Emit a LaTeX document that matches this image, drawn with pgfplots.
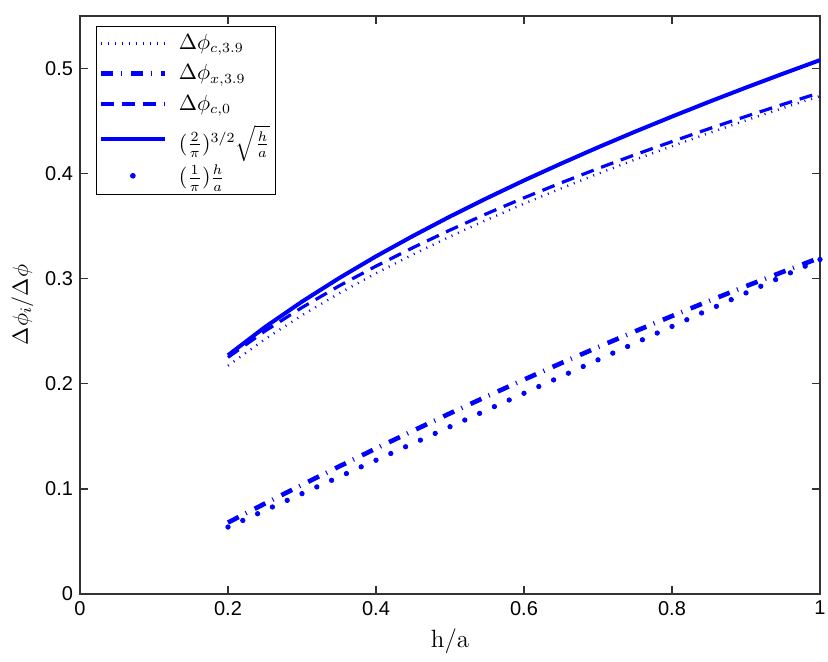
\documentclass[border=0pt]{standalone}
\usepackage{pgfplots}
\pgfplotsset{compat=1.18}
\usepackage{fontspec}
\newfontfamily\hel{Liberation Sans}
\definecolor{mblue}{rgb}{0,0,1}
\definecolor{axgray}{gray}{0.2}
\begin{document}
\begin{tikzpicture}
\begin{axis}[
  name=ax,
  scale only axis,
  width=370pt, height=289pt,
  xmin=0, xmax=1, ymin=0, ymax=0.55,
  xtick={0,0.2,0.4,0.6,0.8,1},
  ytick={0,0.1,0.2,0.3,0.4,0.5},
  xticklabels={0,0.2,0.4,0.6,0.8,1},
  yticklabels={0,0.1,0.2,0.3,0.4,0.5},
  tick align=inside,
  major tick length=4pt,
  axis line style={axgray, line width=0.6pt},
  every tick/.style={axgray, line width=0.6pt},
  ticklabel style={font=\hel\fontsize{10}{12}\selectfont, text=black},
  /pgf/number format/assume math mode=true,
  xlabel={\fontsize{12.5}{14}\selectfont h/a},
  ylabel={\fontsize{11}{13}\selectfont $\Delta\phi_i/\Delta\phi$},
  ylabel style={yshift=-1pt},
  legend style={at={(0.0216,0.983)}, anchor=north west, font=\fontsize{10.5}{12}\selectfont,
    draw=black, line width=0.6pt, row sep=2pt, column sep=3pt, inner xsep=1pt, inner ysep=2pt,
    cells={anchor=west}},
  legend cell align=left,
  legend image code/.code={\draw[#1] (0cm,0cm) -- (32pt,0cm); \path[draw=none] (0,0) -- (34pt,0);},
]
% Delta phi_{c,3.9}: thin dotted
\addplot[mblue, line width=1.2pt, dash pattern=on 0.5pt off 3pt] coordinates {
(0.20,0.2172)(0.25,0.2425)(0.30,0.2652)(0.35,0.2860)(0.40,0.3052)(0.45,0.3231)
(0.50,0.3401)(0.55,0.3561)(0.60,0.3714)(0.65,0.3859)(0.70,0.3999)(0.75,0.4133)
(0.80,0.4261)(0.85,0.4386)(0.90,0.4507)(0.95,0.4624)(1.00,0.4738)};
\addlegendentry{$\Delta\phi_{c,3.9}$}
% Delta phi_{x,3.9}: thick dash-dot
\addplot[mblue, line width=2.3pt, dash pattern=on 6pt off 4pt on 0.5pt off 4.5pt] coordinates {
(0.20,0.0680)(0.25,0.0861)(0.30,0.1039)(0.35,0.1213)(0.40,0.1385)(0.45,0.1553)
(0.50,0.1719)(0.55,0.1881)(0.60,0.2040)(0.65,0.2196)(0.70,0.2349)(0.75,0.2499)
(0.80,0.2645)(0.85,0.2789)(0.90,0.2929)(0.95,0.3066)(1.00,0.3200)};
\addlegendentry{$\Delta\phi_{x,3.9}$}
% Delta phi_{c,0}: dashed
\addplot[mblue, line width=1.6pt, dash pattern=on 6.5pt off 4pt] coordinates {
(0.20,0.2252)(0.25,0.2502)(0.30,0.2726)(0.35,0.2931)(0.40,0.3120)(0.45,0.3296)
(0.50,0.3463)(0.55,0.3620)(0.60,0.3770)(0.65,0.3912)(0.70,0.4049)(0.75,0.4180)
(0.80,0.4305)(0.85,0.4427)(0.90,0.4545)(0.95,0.4659)(1.00,0.4770)};
\addlegendentry{$\Delta\phi_{c,0}$}
% (2/pi)^{3/2} sqrt(h/a): solid
\addplot[mblue, line width=2pt] coordinates {
(0.20,0.2272)(0.25,0.2540)(0.30,0.2782)(0.35,0.3005)(0.40,0.3213)(0.45,0.3407)
(0.50,0.3592)(0.55,0.3767)(0.60,0.3935)(0.65,0.4095)(0.70,0.4250)(0.75,0.4399)
(0.80,0.4543)(0.85,0.4683)(0.90,0.4819)(0.95,0.4951)(1.00,0.5080)};
\addlegendentry{$(\frac{2}{\pi})^{3/2}\sqrt{\frac{h}{a}}$}
% (1/pi) h/a: dots
\addplot[mblue, only marks, mark=*, mark size=1.1pt, legend image code/.code={\fill[mblue] (16pt,0cm) circle (1.1pt); \path[draw=none] (0,0) -- (34pt,0);}] coordinates {
(0.20,0.0637)(0.22,0.0700)(0.24,0.0764)(0.26,0.0828)(0.28,0.0891)(0.30,0.0955)
(0.32,0.1019)(0.34,0.1082)(0.36,0.1146)(0.38,0.1210)(0.40,0.1273)(0.42,0.1337)
(0.44,0.1401)(0.46,0.1464)(0.48,0.1528)(0.50,0.1592)(0.52,0.1655)(0.54,0.1719)
(0.56,0.1783)(0.58,0.1846)(0.60,0.1910)(0.62,0.1974)(0.64,0.2037)(0.66,0.2101)
(0.68,0.2165)(0.70,0.2228)(0.72,0.2292)(0.74,0.2355)(0.76,0.2419)(0.78,0.2483)
(0.80,0.2546)(0.82,0.2610)(0.84,0.2674)(0.86,0.2737)(0.88,0.2801)(0.90,0.2865)
(0.92,0.2928)(0.94,0.2992)(0.96,0.3056)(0.98,0.3119)(1.00,0.3183)};
\addlegendentry{$(\frac{1}{\pi})\frac{h}{a}$}
\end{axis}
\pgfresetboundingbox
\path[use as bounding box] ([xshift=-40pt,yshift=-34pt]ax.south west) rectangle ([xshift=4pt,yshift=8pt]ax.north east);
\end{tikzpicture}
\end{document}
